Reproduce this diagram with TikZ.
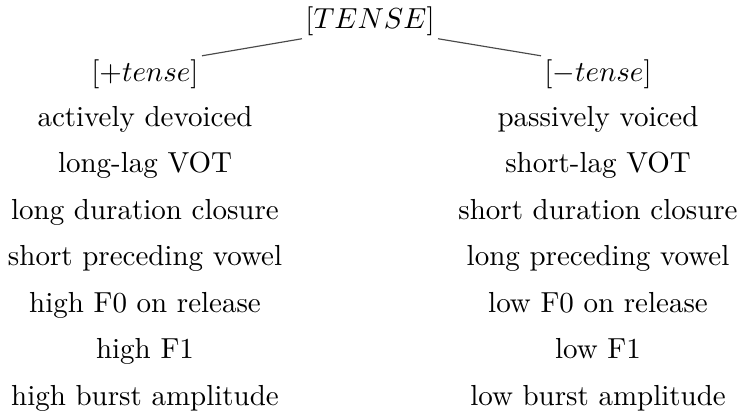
\documentclass[tikz,border=0pt]{standalone}
\usepackage{tikz}
\usetikzlibrary{positioning}
\definecolor{edgegray}{HTML}{4a4a4a}

\begin{document}
\begin{tikzpicture}[x=0.345pt,y=-0.345pt,
	feat/.style={anchor=base,inner sep=1pt},
	cue/.style={anchor=base,inner sep=0pt}]

    \useasboundingbox (0,0) rectangle (744,411);

    \node[feat] (tense) at (370,28) {$[TENSE]$};
    \node[feat] (plus) at (145,81) {$[+tense]$};
    \node[feat] (minus) at (598,81) {$[-tense]$};

    \draw[edgegray, line width=0.4pt] (tense.south west) -- (plus.north east);
    \draw[edgegray, line width=0.4pt] (tense.south east) -- (minus.north west);

    \node[cue] (p1) at (145,126) {actively devoiced};
    \node[cue] (p2) at (145,172.5) {long-lag VOT};
    \node[cue] (p3) at (145,219) {long duration closure};
    \node[cue] (p4) at (145,265.5) {short preceding vowel};
    \node[cue] (p5) at (145,312) {high F0 on release};
    \node[cue] (p6) at (145,358.5) {high F1};
    \node[cue] (p7) at (145,405) {high burst amplitude};

    \node[cue] (m1) at (598,126) {passively voiced};
    \node[cue] (m2) at (598,172.5) {short-lag VOT};
    \node[cue] (m3) at (598,219) {short duration closure};
    \node[cue] (m4) at (598,265.5) {long preceding vowel};
    \node[cue] (m5) at (598,312) {low F0 on release};
    \node[cue] (m6) at (598,358.5) {low F1};
    \node[cue] (m7) at (598,405) {low burst amplitude};
\end{tikzpicture}
\end{document}
